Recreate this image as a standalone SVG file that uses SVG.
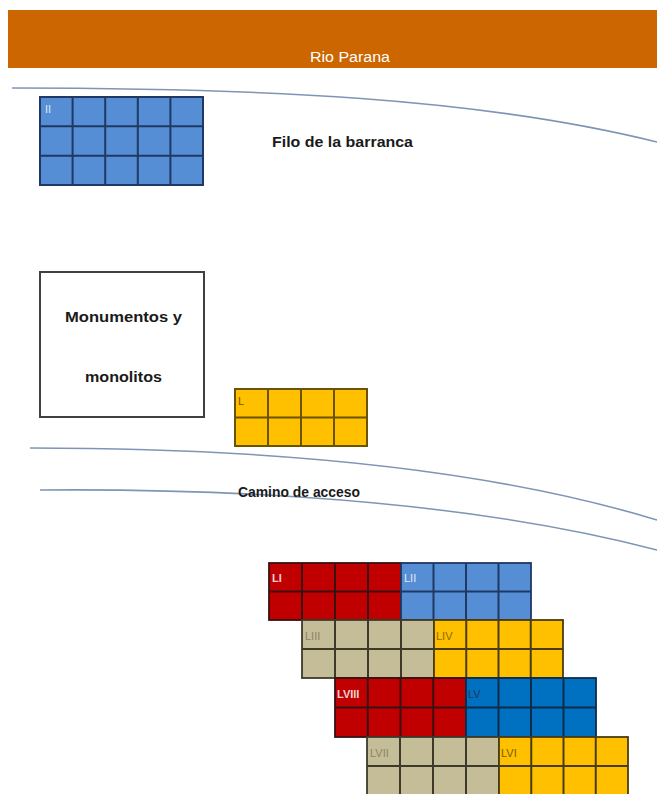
<svg xmlns="http://www.w3.org/2000/svg" width="657" height="794" viewBox="0 0 657 794">
<style>
.t{font-family:"Liberation Sans",Arial,sans-serif;fill:#1a1a1a;font-size:15.5px;font-weight:bold}
.lbl{font-family:"Liberation Sans",Arial,sans-serif;font-size:11px}
.curve{fill:none;stroke:#7f95b5;stroke-width:1.6}
.gl{fill:none;stroke-width:2}
</style>
<rect width="657" height="794" fill="#ffffff"/>
<g id="rio-parana">
<rect x="8" y="10" width="649" height="58" fill="#CC6600"/>
<text class="t" x="310" y="62" style="fill:#ffffff;font-weight:normal" textLength="80" lengthAdjust="spacingAndGlyphs">Rio Parana</text>
</g>
<g id="connectors">
<path class="curve" d="M12,88 C260,88 480,98 657,142"/>
<path class="curve" d="M30,448 C260,448 480,466 657,520"/>
<path class="curve" d="M40,490 C270,488 490,506 657,550"/>
</g>
<g id="filo-label">
<text class="t" x="272" y="147" textLength="141" lengthAdjust="spacingAndGlyphs">Filo de la barranca</text>
</g>
<g id="camino-label">
<text class="t" x="238" y="497" textLength="122" lengthAdjust="spacingAndGlyphs">Camino de acceso</text>
</g>
<g id="block-II">
<rect x="40" y="97" width="163" height="88" fill="#558ED5" stroke="#1F3864" stroke-width="2"/>
<path class="gl" stroke="#1F3864" d="M72.6,97V185M105.2,97V185M137.8,97V185M170.4,97V185M40,126.3H203M40,155.7H203"/>
<text class="lbl" x="45" y="113" fill="#dfe8f5">II</text>
</g>
<g id="monumentos">
<rect x="40" y="272" width="164" height="145" fill="#ffffff" stroke="#404040" stroke-width="2"/>
<text class="t" x="65" y="322" textLength="117" lengthAdjust="spacingAndGlyphs">Monumentos y</text>
<text class="t" x="85" y="382" textLength="77" lengthAdjust="spacingAndGlyphs">monolitos</text>
</g>
<g id="block-L">
<rect x="235" y="389" width="132" height="57" fill="#FFC000" stroke="#6B5200" stroke-width="2"/>
<path class="gl" stroke="#6B5200" d="M268,389V446M301,389V446M334,389V446M235,417.5H367"/>
<text class="lbl" x="238" y="405" fill="#6B5200">L</text>
</g>
<g id="block-LI">
<rect x="269" y="563" width="132" height="57" fill="#C00000" stroke="#3a1010" stroke-width="1.8"/>
<path class="gl" stroke="#3a1010" d="M302,563V620M335,563V620M368,563V620M269,591.5H401"/>
<text class="lbl" x="272" y="582" fill="#f4d0d0" font-weight="bold">LI</text>
</g>
<g id="block-LII">
<rect x="401" y="563" width="130" height="57" fill="#558ED5" stroke="#1F3864" stroke-width="1.8"/>
<path class="gl" stroke="#1F3864" d="M433.5,563V620M466,563V620M498.5,563V620M401,591.5H531"/>
<text class="lbl" x="404" y="582" fill="#e2eaf6">LII</text>
</g>
<g id="block-LIII">
<rect x="302" y="620" width="132" height="58" fill="#C4BD97" stroke="#3e3a2a" stroke-width="1.8"/>
<path class="gl" stroke="#3e3a2a" d="M335,620V678M368,620V678M401,620V678M302,649H434"/>
<text class="lbl" x="305" y="640" fill="#8a8466">LIII</text>
</g>
<g id="block-LIV">
<rect x="434" y="620" width="129" height="58" fill="#FFC000" stroke="#4a3c10" stroke-width="1.8"/>
<path class="gl" stroke="#4a3c10" d="M466.25,620V678M498.5,620V678M530.75,620V678M434,649H563"/>
<text class="lbl" x="436" y="640" fill="#8a6a00">LIV</text>
</g>
<g id="block-LVIII">
<rect x="335" y="678" width="131" height="59" fill="#C00000" stroke="#3a1010" stroke-width="1.8"/>
<path class="gl" stroke="#3a1010" d="M367.75,678V737M400.5,678V737M433.25,678V737M335,707.5H466"/>
<text class="lbl" x="337" y="698" fill="#f4d0d0" font-weight="bold">LVIII</text>
</g>
<g id="block-LV">
<rect x="466" y="678" width="130" height="59" fill="#0070C0" stroke="#0f2a4a" stroke-width="1.8"/>
<path class="gl" stroke="#0f2a4a" d="M498.5,678V737M531,678V737M563.5,678V737M466,707.5H596"/>
<text class="lbl" x="468" y="698" fill="#1F3864">LV</text>
</g>
<g id="block-LVII">
<rect x="367" y="737" width="132" height="60" fill="#C4BD97" stroke="#3e3a2a" stroke-width="1.8"/>
<path class="gl" stroke="#3e3a2a" d="M400,737V797M433,737V797M466,737V797M367,766H499"/>
<text class="lbl" x="370" y="757" fill="#8a8466">LVII</text>
</g>
<g id="block-LVI">
<rect x="499" y="737" width="129" height="60" fill="#FFC000" stroke="#4a3c10" stroke-width="1.8"/>
<path class="gl" stroke="#4a3c10" d="M531.25,737V797M563.5,737V797M595.75,737V797M499,766H628"/>
<text class="lbl" x="501" y="757" fill="#7a5c00">LVI</text>
</g>
</svg>
